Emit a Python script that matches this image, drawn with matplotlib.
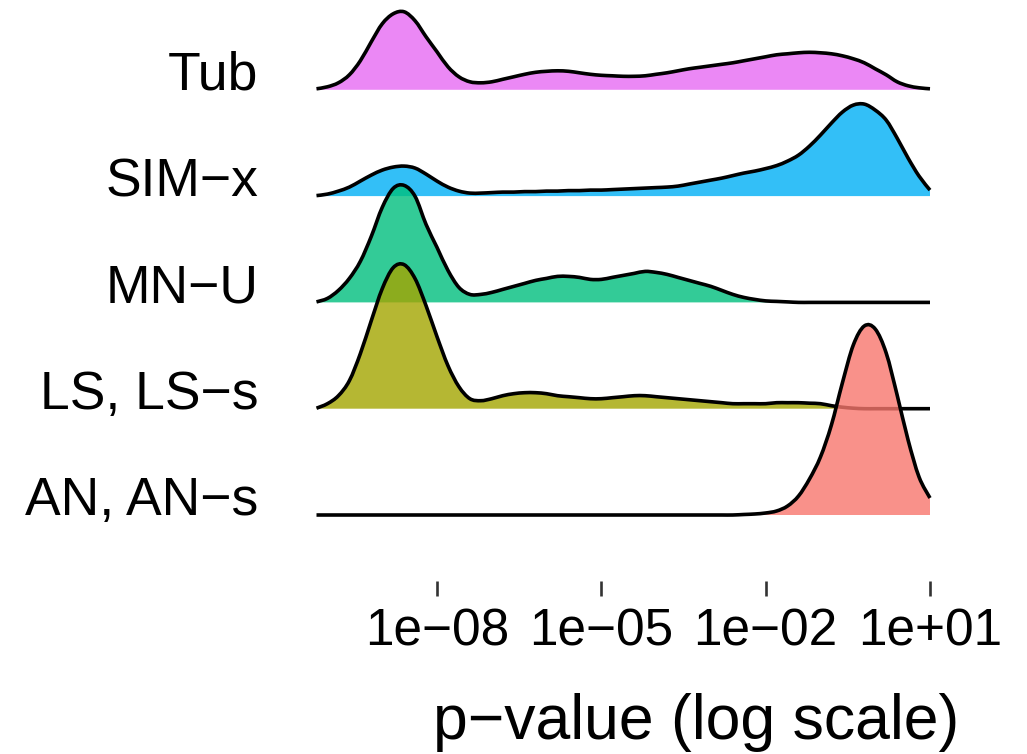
import matplotlib
matplotlib.use("Agg")
import matplotlib.pyplot as plt
from matplotlib.path import Path
from matplotlib.patches import PathPatch
import numpy as np

plt.rcParams['font.family'] = ['Liberation Sans', 'DejaVu Sans']

# groups, bottom to top
groups = ['AN, AN\u2212s', 'LS, LS\u2212s', 'MN\u2212U', 'SIM\u2212x', 'Tub']
colors = ['#F8766D', '#A3A500', '#00BF7D', '#00B0F6', '#E76BF3']

# log10(p) grid the ridges were read on
log_p = [-10.2, -10.0, -9.8, -9.6, -9.4, -9.2, -9.0, -8.8, -8.6, -8.4,
         -8.2, -8.0, -7.8, -7.6, -7.4, -7.2, -7.0, -6.8, -6.6, -6.4,
         -6.2, -6.0, -5.8, -5.6, -5.4, -5.2, -5.0, -4.8, -4.6, -4.4,
         -4.2, -4.0, -3.8, -3.6, -3.4, -3.2, -3.0, -2.8, -2.6, -2.4,
         -2.2, -2.0, -1.8, -1.6, -1.4, -1.2, -1.0, -0.8, -0.6, -0.4,
         -0.2, 0.0, 0.2, 0.4, 0.6, 0.8, 1.0]

# ridge heights (scaled density)
an_h = [0, 0, 0, 0, 0, 0, 0, 0, 0, 0,
        0, 0, 0, 0, 0, 0, 0, 0, 0, 0,
        0, 0, 0, 0, 0, 0, 0, 0, 0, 0,
        0, 0, 0, 0, 0, 0, 0, 0, 0, 0.5,
        1, 2, 4, 9, 19, 36, 58, 90, 132, 170,
        189, 186, 162, 120, 75, 38, 17]
ls_h = [0.5, 5, 13, 28, 55, 88, 120, 141, 144, 130,
        103, 72, 43, 22, 10, 8, 10, 13, 15, 16,
        16, 15, 13, 12, 11, 10, 10, 11, 12, 13,
        13, 12, 11, 10, 9, 8, 7, 6, 5, 5,
        5, 5, 6, 6, 6, 5.5, 5, 3, 1.5, 0.5,
        0, 0, 0, 0, 0, 0, 0]
mn_h = [0.5, 4, 12, 24, 41, 66, 95, 114, 117, 106,
        78, 55, 32, 15, 8, 8, 10, 13, 16, 19,
        22, 24, 26, 26, 25, 23, 23, 25, 27, 29,
        31, 30, 28, 25, 22, 19, 16, 12, 8, 5,
        3, 1.5, 1, 0.5, 0, 0, 0, 0, 0, 0,
        0, 0, 0, 0, 0, 0, 0]
sim_h = [0.5, 2, 5, 9, 15, 21, 26, 29, 30, 28,
         22, 15, 9, 5, 3, 3, 3.5, 4, 4, 4.5,
         4.5, 5, 5, 5.5, 5.5, 6, 6, 6.5, 7, 7.5,
         8, 8.5, 9, 10, 12, 14, 16, 18, 20.5, 23,
         25, 27.5, 30.5, 35, 41, 50, 61, 73, 84, 91,
         92, 86, 76, 58, 38, 20, 6]
tub_h = [1, 3, 7, 15, 29, 48, 66, 76, 78, 69,
         53, 38, 23, 13, 8, 7, 8, 10.5, 13, 15.5,
         17.5, 18.5, 19, 18.5, 17, 15.5, 14.5, 14, 13.5, 13.5,
         14, 15.5, 17, 19, 21, 22.5, 24, 25.5, 27, 29,
         31, 33, 35, 36, 37, 37.5, 37, 36, 34, 31,
         27, 21, 15, 8, 4, 2, 1]

heights = [an_h, ls_h, mn_h, sim_h, tub_h]
ridge_scale = 1 / 106.3

tick_pos = [-8, -5, -2, 1]
tick_labels = ['1e\u221208', '1e\u221205', '1e\u221202', '1e+01']


def smooth_curve(x, y):
    """Catmull-Rom through the points, as cubic bezier path pieces"""
    pts = np.column_stack([x, y])
    ext = np.vstack([pts[0], pts, pts[-1]])
    verts = [pts[0]]
    codes = [Path.MOVETO]
    for k in range(len(pts) - 1):
        p0, p1, p2, p3 = ext[k], ext[k + 1], ext[k + 2], ext[k + 3]
        verts += [p1 + (p2 - p0) / 6, p2 - (p3 - p1) / 6, p2]
        codes += [Path.CURVE4] * 3
    return verts, codes


def main():
    W, H = 1027, 754
    fig = plt.figure(figsize=(W / 100, H / 100), dpi=100)
    left, right, top, bottom = 316.5, 930, 0, 581
    ax = fig.add_axes([left / W, 1 - bottom / H, (right - left) / W, (bottom - top) / H])

    x = np.array(log_p)
    # top ridge first so the lower ridges overlap it
    for i in range(len(groups) - 1, -1, -1):
        z = 10 + (len(groups) - i) * 2
        y = i + np.array(heights[i]) * ridge_scale
        verts, codes = smooth_curve(x, y)
        # filled area down to the baseline
        fverts = verts + [(x[-1], i), (x[0], i), verts[0]]
        fcodes = codes + [Path.LINETO, Path.LINETO, Path.CLOSEPOLY]
        ax.add_patch(PathPatch(Path(fverts, fcodes), facecolor=colors[i], alpha=0.8,
                               lw=0, zorder=z, clip_on=False))
        ax.add_patch(PathPatch(Path(verts, codes), facecolor='none', edgecolor='black',
                               lw=2.6, zorder=z + 1, clip_on=False, capstyle='butt',
                               joinstyle='round'))

    ax.set_xlim(x[0], x[-1])
    ax.set_ylim(-66 * ridge_scale, 515 * ridge_scale)

    ax.set_xticks(tick_pos)
    ax.set_xticklabels(tick_labels, fontsize=37)
    ax.tick_params(axis='x', length=11, width=1.9, color='#333333', pad=8, labelcolor='black')

    ax.set_yticks(range(len(groups)))
    ax.set_yticklabels(groups, fontsize=38.5)
    ax.tick_params(axis='y', length=0, pad=42)
    for lab in ax.get_yticklabels():
        lab.set_va('baseline')

    for s in ax.spines.values():
        s.set_visible(False)
    ax.set_facecolor('none')

    fig.text(696 / W, 1 - 739 / H, 'p\u2212value (log scale)', fontsize=45,
             ha='center', va='baseline')

    fig.savefig('out.png', dpi=100, facecolor='white')


if __name__ == '__main__':
    main()
